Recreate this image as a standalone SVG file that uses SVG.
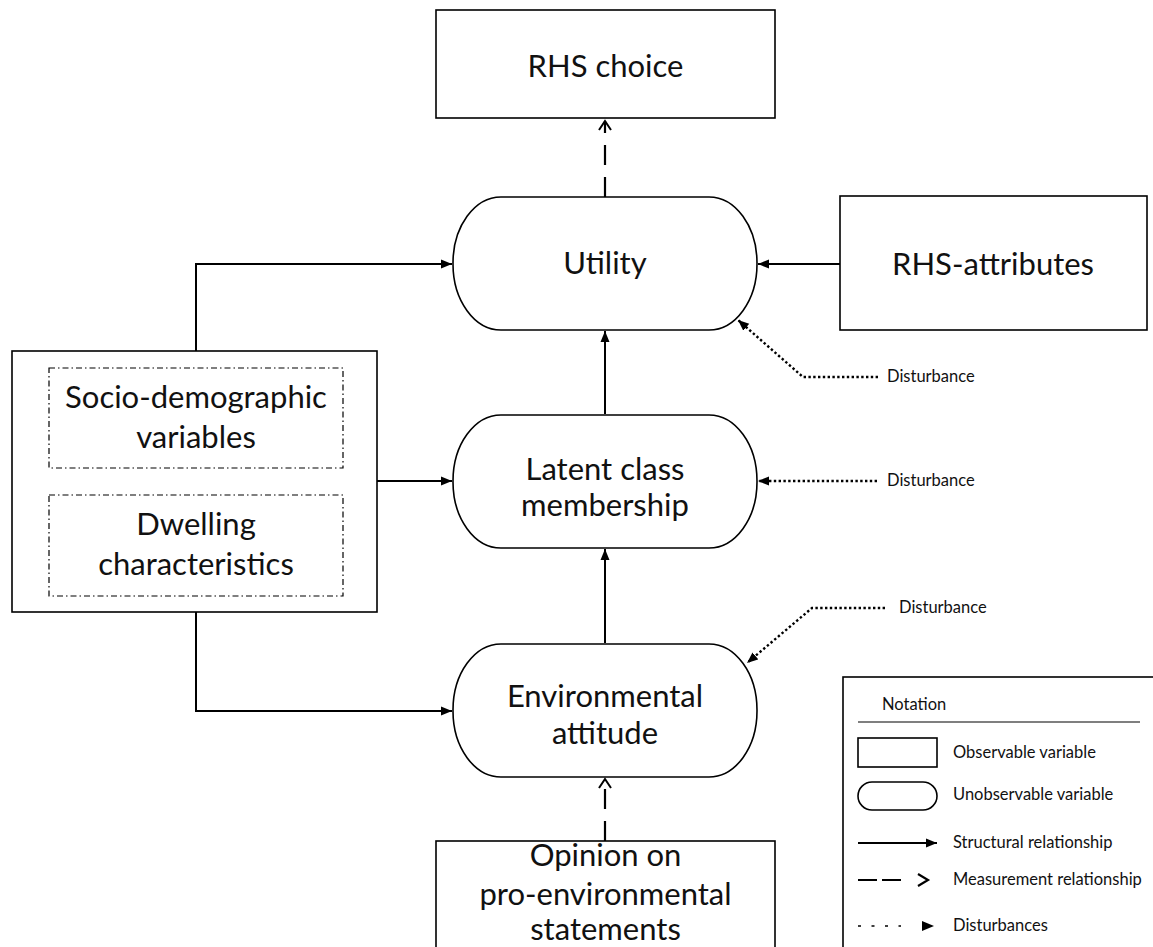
<svg xmlns="http://www.w3.org/2000/svg" width="1153" height="947" viewBox="0 0 1153 947">
<style>
.box{fill:#fff;stroke:#000;stroke-width:1.6}
.inner{fill:none;stroke:#000;stroke-width:1.2;stroke-dasharray:6 3 1.5 3}
.t{font-family:Lato,"Open Sans",sans-serif;font-size:31px;fill:#111;text-anchor:middle}
.s{font-family:Lato,"Open Sans",sans-serif;font-size:16.5px;fill:#111}
.solid{fill:none;stroke:#000;stroke-width:2}
.dash{fill:none;stroke:#000;stroke-width:2.2;stroke-dasharray:20 12}
.dot{fill:none;stroke:#000;stroke-width:2.4;stroke-dasharray:2.4 2.4}
</style>
<defs>
<marker id="tri" markerUnits="userSpaceOnUse" markerWidth="12" markerHeight="10" refX="11" refY="5" orient="auto">
<path d="M0,0.5 L11,5 L0,9.5 z" fill="#000"/>
</marker>
<marker id="chev" markerUnits="userSpaceOnUse" markerWidth="14" markerHeight="14" refX="11" refY="7" orient="auto">
<path d="M2,1 L11,7 L2,13" fill="none" stroke="#000" stroke-width="2"/>
</marker>
</defs>
<g id="connectors">
<line class="dash" x1="605" y1="197" x2="605" y2="121" marker-end="url(#chev)"/>
<line class="dash" x1="605" y1="841" x2="605" y2="779" marker-end="url(#chev)"/>
<line class="solid" x1="840" y1="264" x2="758" y2="264" marker-end="url(#tri)"/>
<polyline class="solid" points="196,351 196,264 452,264" marker-end="url(#tri)"/>
<line class="solid" x1="377" y1="481" x2="452" y2="481" marker-end="url(#tri)"/>
<polyline class="solid" points="196,612 196,711 452,711" marker-end="url(#tri)"/>
<line class="solid" x1="605" y1="414" x2="605" y2="331" marker-end="url(#tri)"/>
<line class="solid" x1="605" y1="643" x2="605" y2="549" marker-end="url(#tri)"/>
<polyline class="dot" points="878,377 803,377 738,320" marker-end="url(#tri)"/>
<line class="dot" x1="877" y1="481" x2="758" y2="481" marker-end="url(#tri)"/>
<polyline class="dot" points="885,608 812,608 747,663" marker-end="url(#tri)"/>
</g>
<g id="rhs-choice">
<rect class="box" x="436" y="10" width="339" height="108"/>
<text class="t" x="605.5" y="77">RHS choice</text>
</g>
<g id="utility">
<rect class="box" x="453" y="197" width="304" height="133" rx="48" ry="66"/>
<text class="t" x="605" y="274">Utility</text>
</g>
<g id="rhs-attributes">
<rect class="box" x="840" y="196" width="307" height="134"/>
<text class="t" x="993" y="275">RHS-attributes</text>
</g>
<g id="covariates">
<rect class="box" x="12" y="351" width="365" height="261"/>
<rect class="inner" x="49" y="368" width="294" height="100"/>
<rect class="inner" x="49" y="495" width="294" height="101"/>
<text class="t" x="196" y="408">Socio-demographic</text>
<text class="t" x="196" y="448">variables</text>
<text class="t" x="196" y="535">Dwelling</text>
<text class="t" x="196" y="575">characteristics</text>
</g>
<g id="latent-class">
<rect class="box" x="453" y="415" width="304" height="133" rx="48" ry="66"/>
<text class="t" x="605" y="480">Latent class</text>
<text class="t" x="605" y="516">membership</text>
</g>
<g id="environmental-attitude">
<rect class="box" x="453" y="644" width="304" height="133" rx="48" ry="66"/>
<text class="t" x="605" y="707">Environmental</text>
<text class="t" x="605" y="744">attitude</text>
</g>
<g id="opinion">
<rect class="box" x="436" y="841" width="339" height="120"/>
<text class="t" x="605.5" y="866">Opinion on</text>
<text class="t" x="605.5" y="905">pro-environmental</text>
<text class="t" x="605.5" y="940">statements</text>
</g>
<g id="disturbances">
<text class="s" x="887" y="382">Disturbance</text>
<text class="s" x="887" y="486">Disturbance</text>
<text class="s" x="899" y="613">Disturbance</text>
</g>
<g id="legend">
<rect class="box" x="843" y="677" width="320" height="290"/>
<text class="s" x="882" y="710">Notation</text>
<line x1="858" y1="722" x2="1140" y2="722" stroke="#000" stroke-width="1.2"/>
<rect class="box" x="858" y="738" width="79" height="29"/>
<text class="s" x="953" y="758">Observable variable</text>
<rect class="box" x="858" y="782" width="79" height="28" rx="14" ry="14"/>
<text class="s" x="953" y="800">Unobservable variable</text>
<line class="solid" x1="858" y1="843" x2="937" y2="843" marker-end="url(#tri)"/>
<text class="s" x="953" y="848">Structural relationship</text>
<line x1="858" y1="880" x2="903" y2="880" stroke="#000" stroke-width="2.2" stroke-dasharray="19 5"/>
<path d="M918,874 L928,880 L918,886" fill="none" stroke="#000" stroke-width="2.2"/>
<text class="s" x="953" y="885">Measurement relationship</text>
<line x1="858" y1="926" x2="901" y2="926" stroke="#000" stroke-width="1.5" stroke-dasharray="3 10.5"/>
<path d="M922,921 L934,926 L922,931 z" fill="#000"/>
<text class="s" x="953" y="931">Disturbances</text>
</g>
</svg>
